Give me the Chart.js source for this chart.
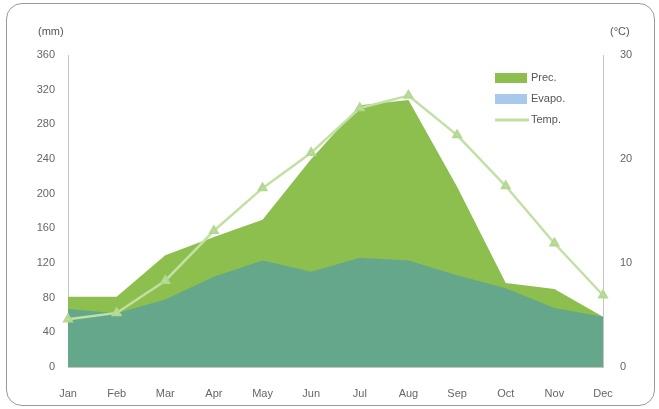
<!DOCTYPE html>
<html>
<head>
<meta charset="utf-8">
<script src="https://cdn.jsdelivr.net/npm/chart.js@4"></script>
<style>
  html, body { margin: 0; padding: 0; background: #fff; }
  #wrap { position: relative; width: 659px; height: 409px; }
  #frame {
    position: absolute; left: 6px; top: 3px; width: 647px; height: 401px;
    border: 1.5px solid #9a9a9a; border-radius: 16px; pointer-events: none;
  }
</style>
</head>
<body>
<div id="wrap">
  <canvas id="chart" width="659" height="409"></canvas>
  <div id="frame"></div>
</div>
<script>
const months = ['Jan', 'Feb', 'Mar', 'Apr', 'May', 'Jun', 'Jul', 'Aug', 'Sep', 'Oct', 'Nov', 'Dec'];
const precip = [81, 81, 129, 150, 170, 240, 302, 308, 208, 97, 90, 58];
const evapo = [67, 62, 78, 104, 123, 110, 126, 123, 106, 91, 68, 58];
const temp = [4.6, 5.2, 8.3, 13.1, 17.2, 20.6, 24.9, 26.1, 22.3, 17.4, 11.9, 6.9];
const mmTicks = [0, 40, 80, 120, 160, 200, 240, 280, 320, 360];
const degTicks = [0, 10, 20, 30];

const textColor = '#666';
const axisColor = '#c4c4c4';
const font = { family: 'Liberation Sans, Arial, sans-serif', size: 11 };

// legend and axis unit labels drawn by hand
const extras = {
    id: 'extras',
    afterDraw(chart) {
        const ctx = chart.ctx;
        ctx.save();
        ctx.font = '11px Liberation Sans, Arial, sans-serif';
        ctx.fillStyle = '#555';
        ctx.textBaseline = 'middle';
        ctx.textAlign = 'left';
        ctx.fillText('(mm)', 38, 32);
        ctx.fillText('(\u00B0C)', 610, 32);

        const items = [
            { label: 'Prec.', type: 'box', color: '#8cbf4e' },
            { label: 'Evapo.', type: 'box', color: '#a9c9ec' },
            { label: 'Temp.', type: 'line', color: '#c3e0a4' },
        ];
        items.forEach((it, i) => {
            const y = 78 + i * 21;
            if (it.type === 'box') {
                ctx.fillStyle = it.color;
                ctx.fillRect(495, y - 5, 32, 10);
            } else {
                ctx.strokeStyle = it.color;
                ctx.lineWidth = 3;
                ctx.beginPath();
                ctx.moveTo(495, y);
                ctx.lineTo(529, y);
                ctx.stroke();
            }
            ctx.fillStyle = '#555';
            ctx.fillText(it.label, 531, y);
        });
        ctx.restore();
    }
};

new Chart(document.getElementById('chart'), {
    type: 'line',
    data: {
        labels: months,
        datasets: [
            {
                label: 'Temp.',
                data: temp,
                yAxisID: 'y1',
                borderColor: '#c3e0a4',
                backgroundColor: '#c3e0a4',
                borderWidth: 2.5,
                pointStyle: 'triangle',
                pointRadius: 4,
                pointBorderColor: '#b4d891',
                pointBackgroundColor: '#c3e0a4',
                fill: false,
                order: 0,
            },
            {
                label: 'Evapo.',
                data: evapo,
                yAxisID: 'y',
                borderWidth: 0,
                pointRadius: 0,
                backgroundColor: '#64a78a',
                fill: 'origin',
                order: 1,
            },
            {
                label: 'Prec.',
                data: precip,
                yAxisID: 'y',
                borderWidth: 0,
                pointRadius: 0,
                backgroundColor: '#8cbf4e',
                fill: 'origin',
                order: 2,
            },
        ]
    },
    options: {
        responsive: false,
        animation: false,
        layout: { padding: { top: 55, left: 0, right: 0, bottom: 0 } },
        elements: { line: { tension: 0 } },
        scales: {
            x: {
                offset: false,
                grid: { display: false, drawTicks: false },
                border: { color: axisColor },
                ticks: { color: textColor, font: font, padding: 20, maxRotation: 0 },
                afterFit: s => { s.height = 42; },
            },
            y: {
                position: 'left',
                min: 0,
                max: 360,
                afterBuildTicks: s => { s.ticks = mmTicks.map(v => ({ value: v })); },
                grid: { display: false, drawTicks: false },
                border: { color: axisColor, width: 1 },
                ticks: { color: textColor, font: font, padding: 13 },
                afterFit: s => { s.width = 68; },
            },
            y1: {
                position: 'right',
                min: 0,
                max: 30,
                afterBuildTicks: s => { s.ticks = degTicks.map(v => ({ value: v })); },
                grid: { display: false, drawTicks: false },
                border: { color: axisColor, width: 1 },
                ticks: { color: textColor, font: font, padding: 17 },
                afterFit: s => { s.width = 56; },
            },
        },
        plugins: {
            legend: { display: false },
            tooltip: { enabled: false },
        },
    },
    plugins: [extras]
});
</script>
</body>
</html>
